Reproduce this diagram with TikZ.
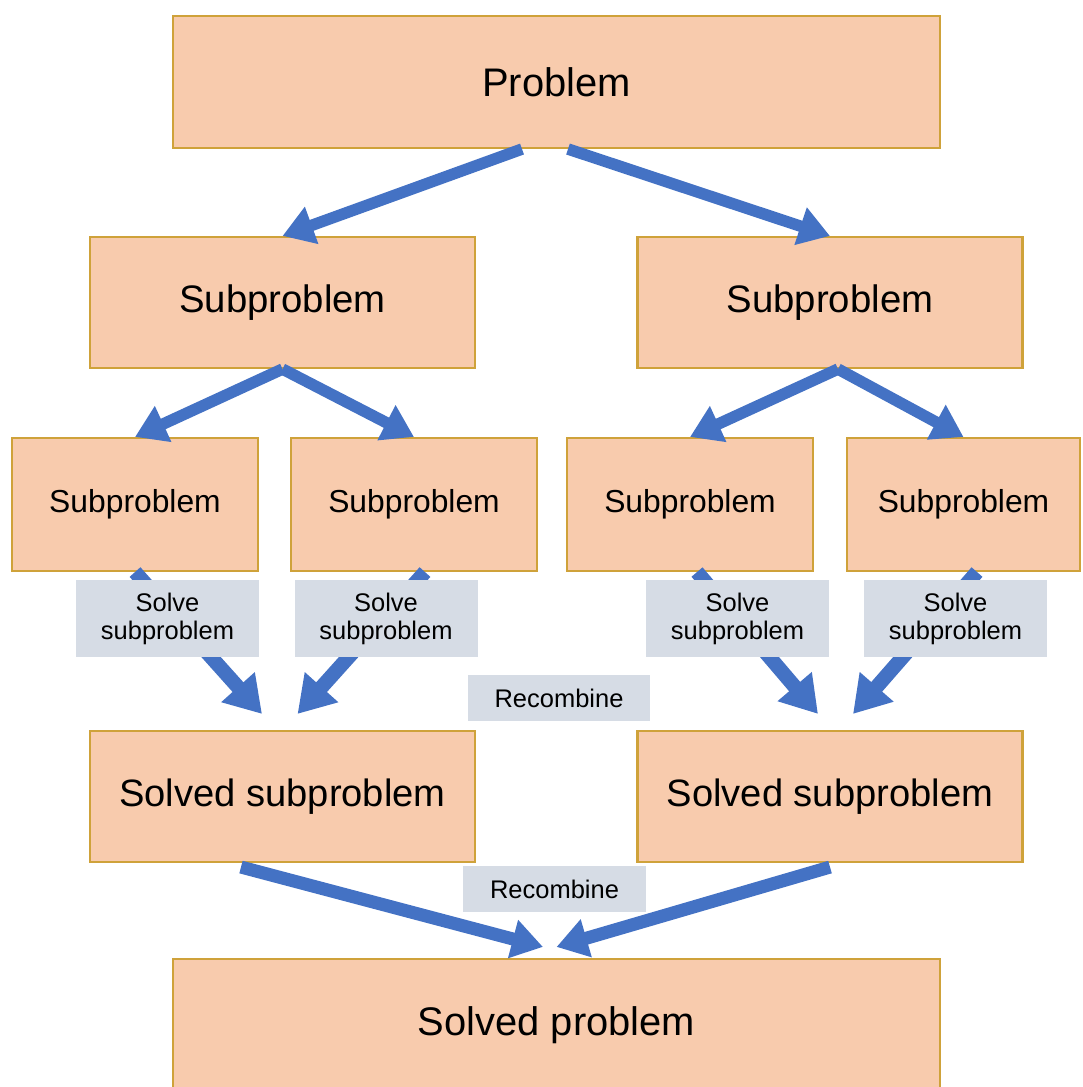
\documentclass[tikz,border=0pt]{standalone}
\usepackage{fontspec}
\setmainfont{Liberation Sans}
\usepackage{xcolor}
\usepackage{tikz}
\usetikzlibrary{arrows.meta, calc}

\definecolor{boxfill}{HTML}{F8CBAD}
\definecolor{boxline}{HTML}{CFA23A}
\definecolor{tagfill}{HTML}{D6DCE5}
\definecolor{flowblue}{HTML}{4472C4}

\begin{document}
\begin{tikzpicture}[
  probbox/.style={draw=boxline, line width=1.2pt, fill=boxfill, inner sep=0pt, minimum height=2.64cm},
  tagbox/.style={fill=tagfill, inner sep=0pt, align=center, font=\fontsize{14.5}{16}\selectfont},
  flow/.style={draw=flowblue, line width=0.23cm, -{Triangle[length=0.62cm,width=0.75cm]}},
  solveflow/.style={flow, line width=0.29cm, -{Triangle[length=0.72cm,width=0.85cm]}}]
\useasboundingbox (0,0) rectangle (21.64,-21.74);
\node[probbox, minimum width=15.34cm, font=\fontsize{22.7}{26}\selectfont] (prob) at (11.13,-1.64) {Problem};
\node[probbox, minimum width=7.7cm, minimum height=2.62cm, font=\fontsize{21.8}{26}\selectfont] (subL) at (5.65,-6.05) {Subproblem};
\node[probbox, minimum width=7.7cm, minimum height=2.62cm, font=\fontsize{21.8}{26}\selectfont] (subR) at (16.6,-6.05) {Subproblem};
\foreach \name/\x/\w in {sa/2.7/4.92, sb/8.28/4.92, sc/13.8/4.92, sd/19.27/4.66}
\node[probbox, minimum width=\w cm, minimum height=2.66cm, font=\fontsize{18.1}{22}\selectfont] (\name) at (\x,-10.09) {Subproblem};
\node[probbox, minimum width=7.7cm, minimum height=2.62cm, font=\fontsize{21.7}{26}\selectfont] (solL) at (5.65,-15.93) {Solved subproblem};
\node[probbox, minimum width=7.7cm, minimum height=2.62cm, font=\fontsize{21.7}{26}\selectfont] (solR) at (16.6,-15.93) {Solved subproblem};
\node[probbox, minimum width=15.34cm, font=\fontsize{22.7}{26}\selectfont] (final) at (11.13,-20.5) {Solved problem};
\draw[flow] ($(prob.south)+(-0.69,0)$) -- (subL.north);
\draw[flow] ($(prob.south)+(0.23,0)$) -- (subR.north);
\draw[flow] (subL.south) -- (sa.north);
\draw[flow] (subL.south) -- (sb.north);
\draw[flow] ($(subR.south)+(0.16,0)$) -- (sc.north);
\draw[flow] ($(subR.south)+(0.16,0)$) -- (sd.north);
\draw[solveflow] (sa.south) -- ($(solL.north)+(-0.41,0.32)$);
\draw[solveflow] ($(sb.south)+(0.22,0)$) -- ($(solL.north)+(0.3,0.32)$);
\draw[solveflow] ($(sc.south)+(0.14,0)$) -- ($(solR.north)+(-0.24,0.32)$);
\draw[solveflow] ($(sd.south)+(0.27,0)$) -- ($(solR.north)+(0.46,0.32)$);
\draw[flow, line width=0.26cm] ($(solL.south)+(-0.83,-0.08)$) -- ($(final.north)+(-0.27,0.22)$);
\draw[flow, line width=0.26cm] ($(solR.south)+(0,-0.08)$) -- ($(final.north)+(0,0.22)$);
\foreach \name/\x in {ta/3.35, tb/7.72, tc/14.75, td/19.11}
\node[tagbox, minimum width=3.66cm, minimum height=1.54cm] (\name) at (\x,-12.37) {Solve\\subproblem};
\node[tagbox, minimum width=3.64cm, minimum height=0.92cm] (recA) at (11.18,-13.96) {Recombine};
\node[tagbox, minimum width=3.66cm, minimum height=0.92cm] (recB) at (11.09,-17.78) {Recombine};
\end{tikzpicture}
\end{document}
